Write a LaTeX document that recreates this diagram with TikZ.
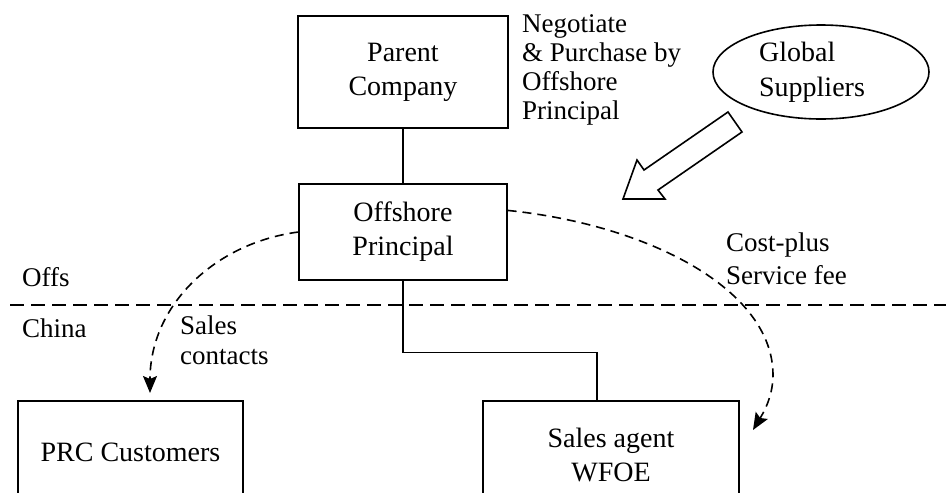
\documentclass[tikz,border=0pt]{standalone}
\usepackage{fontspec}
\setmainfont{Liberation Serif}
\usetikzlibrary{arrows.meta,shapes.geometric}
\tikzset{
  box/.style={draw, line width=1.2pt, inner sep=0pt, align=center,
    font=\fontsize{28}{34}\selectfont},
  lbl/.style={inner sep=0pt, anchor=west, align=left,
    font=\fontsize{27}{30}\selectfont},
  link/.style={line width=1.6pt},
  flow/.style={line width=1.6pt, dash pattern=on 9pt off 6pt,
    -{Stealth[length=17pt,width=14pt,inset=3pt]}},
}

\begin{document}
\begin{tikzpicture}[x=1pt,y=-1pt]
    \useasboundingbox (0,0) rectangle (946,493);
    \clip (0,0) rectangle (946,493);

    % Draw the boxes
    \node[box, minimum width=210pt, minimum height=112pt] (parent) at (403,72) {Parent\\Company};
    \node[box, minimum width=208pt, minimum height=96pt] (off) at (403,232) {Offshore\\Principal};
    \node[box, minimum width=225pt, minimum height=102pt] (prc) at (130.5,452) {PRC Customers};
    \node[box, minimum width=256pt, minimum height=108pt] (wfoe) at (611,455) {Sales agent\\WFOE};
    \node[box, ellipse, line width=1.6pt, minimum width=216pt, minimum height=94pt] (glob) at (821,72) {};
    \node[lbl, anchor=center, font=\fontsize{28}{35}\selectfont] (globtxt) at ([xshift=-9pt]glob.center) {Global\\Suppliers};

    % Side labels
    \node[lbl, font=\fontsize{27}{29}\selectfont] (nego) at (522,70) {Negotiate\\\& Purchase by\\Offshore\\Principal};
    \node[lbl, font=\fontsize{27}{33}\selectfont] (cost) at (726,259) {Cost-plus\\Service fee};
    \node[lbl] (sales) at (180,340) {Sales\\contacts};
    \node[lbl] (offs) at (22,277) {Offs};
    \node[lbl] (china) at (22,328) {China};

    % Solid links
    \draw[link] (parent.south) -- (off.north);
    \draw[link] (off.south) -- ++(0,72) -| ([xshift=-14pt]wfoe.north);

    % Border between offshore and China
    \draw[line width=2.4pt, dash pattern=on 14pt off 7pt] (10,305) -- (946,305);

    % Dashed flows
    \coordinate (salesend) at (150,393);
    \coordinate (costend) at (753,430);
    \draw[flow] (off.west) .. controls (215,243) and (150,305) .. (salesend);
    \draw[flow] ([yshift=-27pt]off.north east) .. controls (650,225) and (773,290) .. (773,375)
        .. controls (773,398) and (762,415) .. (costend);

    % Block arrow from the suppliers
    \draw[link, line join=miter] (623,199) -- (637,160) -- (644,170) -- (728,112)
        -- (742,132) -- (658,190) -- (665,199) -- cycle;
\end{tikzpicture}
\end{document}
